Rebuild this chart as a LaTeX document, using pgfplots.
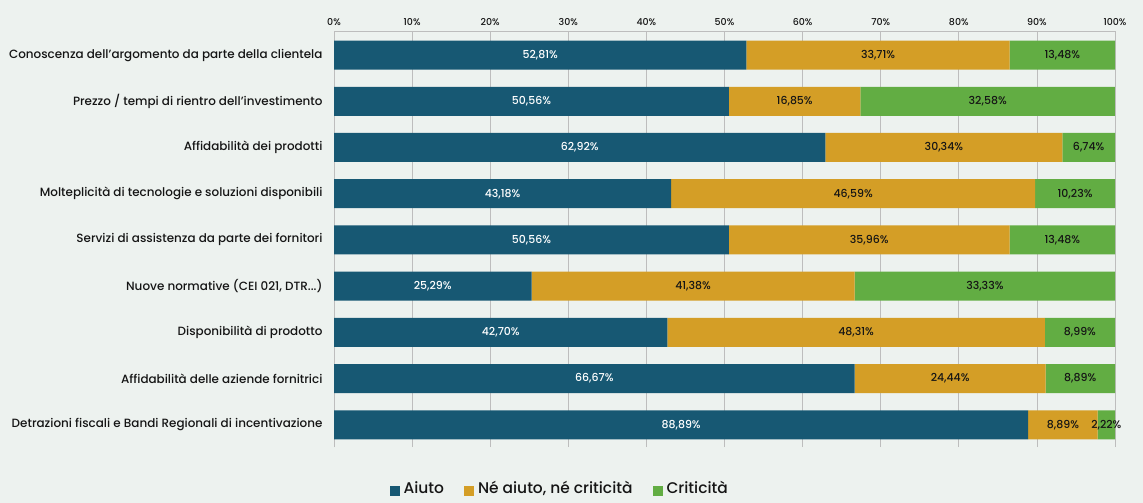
\documentclass[border=0pt]{standalone}
\usepackage{pgfplots}
\pgfplotsset{compat=1.18}
\usepackage{fontspec}
\setmainfont{Poppins}[UprightFont=* Medium]
\definecolor{bg}{HTML}{EDF2EF}
\definecolor{cA}{HTML}{175873}
\definecolor{cB}{HTML}{D49E26}
\definecolor{cC}{HTML}{62AD43}
\definecolor{gridc}{HTML}{BDBDBD}
\definecolor{txt}{HTML}{151515}
\pgfplotsset{
  common/.style={
    at={(334bp,56bp)}, anchor=south west, scale only axis,
    width=781bp, height=416bp,
    xmin=0, xmax=100, ymin=-0.48, ymax=8.52,
  },
}
\newcommand{\ddd}{.\kern0pt.\kern0pt.}
\begin{document}
\begin{tikzpicture}
\fill[bg] (0,0) rectangle (1143bp,503bp);
\begin{axis}[common,
  xbar stacked, bar width=29bp,
  axis x line*=top, axis y line*=left,
  axis line style={gridc, line width=0.8bp},
  xmajorgrids, grid style={gridc, line width=0.8bp},
  major tick length=0,
  xtick={0,10,...,100},
  xticklabels={0\%,10\%,20\%,30\%,40\%,50\%,60\%,70\%,80\%,90\%,100\%},
  xticklabel style={font=\fontsize{9.5}{11}\selectfont, text=txt, yshift=2bp},
  ytick={0,1,2,3,4,5,6,7,8},
  yticklabels={Detrazioni fiscali e Bandi Regionali di incentivazione,
    Affidabilità delle aziende fornitrici,
    Disponibilità di prodotto,
    {Nuove normative (CEI 021, DTR\ddd)},
    Servizi di assistenza da parte dei fornitori,
    Molteplicità di tecnologie e soluzioni disponibili,
    Affidabilità dei prodotti,
    Prezzo / tempi di rientro dell'investimento,
    Conoscenza dell'argomento da parte della clientela},
  yticklabel style={font=\fontsize{12}{14}\selectfont, text=txt, xshift=-8bp},
  legend style={at={(axis description cs:0.289,-0.105)}, anchor=center,
    draw=none, fill=none, legend columns=3,
    font=\fontsize{15.5}{17}\selectfont, text=txt,
    nodes={text height=0.78em, text depth=0.22em},
    /tikz/every odd column/.append style={column sep=2bp},
    /tikz/every even column/.append style={column sep=18bp}},
  legend image code/.code={\fill[#1,draw=none] (0bp,-5bp) rectangle (10bp,5bp);},
]
\addplot[fill=cA, draw=none] coordinates {
 (88.89,0) (66.67,1) (42.70,2) (25.29,3) (50.56,4) (43.18,5) (62.92,6) (50.56,7) (52.81,8)};
\addplot[fill=cB, draw=none] coordinates {
 (8.89,0) (24.44,1) (48.31,2) (41.38,3) (35.96,4) (46.59,5) (30.34,6) (16.85,7) (33.71,8)};
\addplot[fill=cC, draw=none] coordinates {
 (2.22,0) (8.89,1) (8.99,2) (33.33,3) (13.48,4) (10.23,5) (6.74,6) (32.58,7) (13.48,8)};
\legend{Aiuto, {Né aiuto, né criticità}, Criticità}
\end{axis}
\begin{axis}[common, hide axis]
\addplot[draw=none, mark=none, nodes near coords={\pgfplotspointmeta\%}, point meta=explicit symbolic,
  every node near coord/.style={anchor=center, text=white, font=\fontsize{11}{13}\selectfont}]
 table[meta=l] {
x y l
44.445 0 88,89
33.335 1 66,67
21.35 2 42,70
12.645 3 25,29
25.28 4 50,56
21.59 5 43,18
31.46 6 62,92
25.28 7 50,56
26.405 8 52,81
};
\addplot[draw=none, mark=none, nodes near coords={\pgfplotspointmeta\%}, point meta=explicit symbolic,
  every node near coord/.style={anchor=center, text=txt, font=\fontsize{11}{13}\selectfont}]
 table[meta=l] {
x y l
93.335 0 8,89
78.89 1 24,44
66.855 2 48,31
45.98 3 41,38
68.54 4 35,96
66.475 5 46,59
78.09 6 30,34
58.985 7 16,85
69.665 8 33,71
};
\addplot[draw=none, mark=none, nodes near coords={\pgfplotspointmeta\%}, point meta=explicit symbolic,
  every node near coord/.style={anchor=center, text=txt, font=\fontsize{11}{13}\selectfont}]
 table[meta=l] {
x y l
98.89 0 2,22
95.555 1 8,89
95.505 2 8,99
83.335 3 33,33
93.26 4 13,48
94.885 5 10,23
96.63 6 6,74
83.70 7 32,58
93.26 8 13,48
};
\end{axis}
\end{tikzpicture}
\end{document}
